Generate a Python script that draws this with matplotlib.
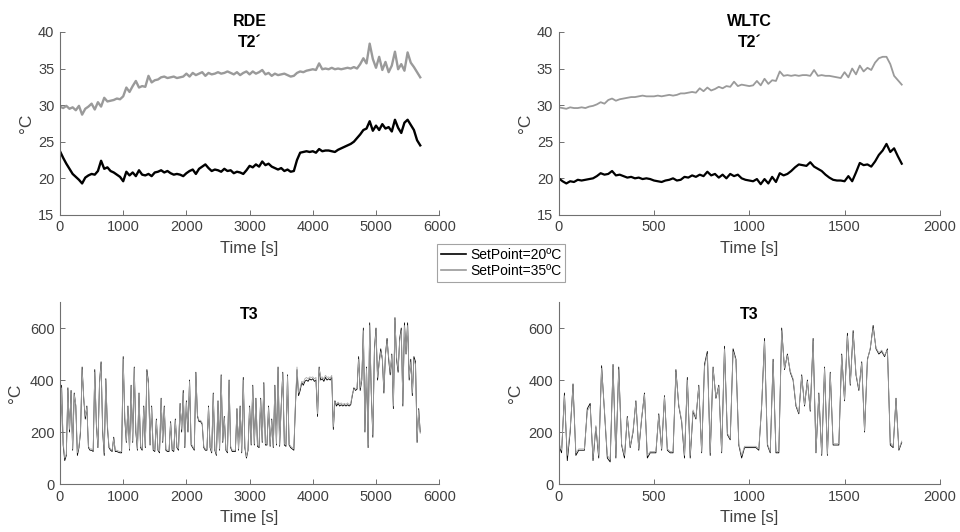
import numpy as np
import matplotlib
matplotlib.use('Agg')
import matplotlib.pyplot as plt

plt.rcParams['font.family'] = ['Liberation Sans', 'DejaVu Sans']

# RDE T2' (every 50 s, 0..5700 s)
rde_t2_20 = [23.7, 22.8, 22.0, 21.3, 20.6, 20.2, 19.8, 19.3, 20.1, 20.4,
             20.6, 20.5, 21.0, 22.4, 21.3, 21.5, 21.0, 20.8, 20.5, 20.2,
             19.6, 20.9, 20.4, 20.8, 20.3, 21.1, 20.5, 20.4, 20.6, 20.3,
             20.8, 20.9, 21.1, 20.8, 21.0, 20.7, 20.5, 20.6, 20.5, 20.3,
             20.7, 21.0, 21.2, 20.6, 21.3, 21.6, 21.9, 21.4, 21.0, 21.2,
             21.1, 20.9, 21.3, 21.0, 21.1, 20.7, 20.9, 20.8, 20.6, 21.1,
             21.7, 21.5, 21.9, 21.6, 22.3, 21.8, 22.0, 21.6, 21.4, 21.2,
             21.4, 21.0, 21.2, 20.9, 21.0, 22.5, 23.5, 23.6, 23.7, 23.6,
             23.7, 23.5, 24.0, 23.7, 23.8, 23.8, 23.7, 23.6, 23.9, 24.1,
             24.3, 24.5, 24.7, 25.0, 25.5, 26.0, 26.6, 26.8, 27.8, 26.5,
             27.2, 26.6, 27.4, 26.8, 27.0, 26.4, 28.0, 26.9, 26.2, 27.6,
             28.0, 27.3, 26.6, 25.2, 24.5]
rde_t2_35 = [29.8, 29.6, 29.9, 29.5, 29.7, 29.3, 29.9, 28.7, 29.5, 29.8,
             30.2, 29.4, 30.4, 29.8, 31.0, 30.5, 30.6, 30.7, 30.9, 30.8,
             31.2, 32.4, 31.8, 32.6, 33.3, 32.4, 32.6, 32.5, 34.0, 33.1,
             33.4, 33.5, 33.8, 33.9, 33.7, 33.8, 33.9, 33.7, 33.8, 33.9,
             34.3, 33.9, 34.4, 34.1, 34.3, 34.5, 34.0, 34.4, 34.2, 34.3,
             34.5, 34.3, 34.4, 34.6, 34.4, 34.2, 34.5, 34.1, 34.4, 34.6,
             34.2, 34.6, 34.3, 34.5, 34.8, 34.2, 34.4, 34.0, 34.3, 34.1,
             34.2, 34.3, 34.1, 33.9, 34.0, 34.4, 34.6, 34.5, 34.7, 34.8,
             34.9, 34.8, 35.7, 34.9, 35.0, 34.9, 35.1, 34.9, 35.0, 34.9,
             35.0, 35.1, 35.0, 35.2, 35.0, 35.6, 36.4, 35.7, 38.4, 36.3,
             35.1, 36.6, 34.8, 35.9, 34.5, 35.4, 37.3, 34.9, 35.6, 34.7,
             37.2, 35.8, 35.2, 34.5, 33.8]

# WLTC T2' (every 20 s, 0..1800 s)
wltc_t2_20 = [20.0, 19.6, 19.3, 19.6, 19.5, 19.8, 19.7, 19.8, 19.9, 20.0,
              20.3, 20.7, 20.5, 20.6, 21.0, 20.4, 20.5, 20.3, 20.1, 20.2,
              20.0, 20.1, 19.9, 20.0, 19.9, 19.7, 19.6, 19.5, 19.7, 19.8,
              20.0, 19.7, 19.8, 20.2, 20.1, 20.4, 20.2, 20.5, 20.3, 20.9,
              20.4, 20.6, 20.1, 20.5, 20.0, 20.6, 20.3, 20.5, 20.0, 19.8,
              19.7, 19.6, 19.9, 19.2, 19.9, 19.3, 20.2, 19.5, 20.7, 20.4,
              20.6, 21.0, 21.5, 21.9, 21.8, 21.7, 22.2, 21.6, 21.3, 21.0,
              20.5, 20.1, 19.8, 19.7, 19.7, 19.6, 20.3, 19.6, 20.8, 22.1,
              21.8, 21.9, 21.6, 22.3, 23.2, 23.8, 24.7, 23.6, 24.1, 23.0,
              22.0]
wltc_t2_35 = [29.7, 29.6, 29.5, 29.7, 29.6, 29.6, 29.7, 29.6, 29.8, 29.9,
              30.1, 30.4, 30.2, 30.7, 30.9, 30.6, 30.8, 30.9, 31.0, 31.1,
              31.1, 31.2, 31.3, 31.2, 31.2, 31.2, 31.3, 31.2, 31.3, 31.4,
              31.3, 31.4, 31.6, 31.6, 31.7, 31.8, 31.7, 32.3, 31.9, 32.4,
              32.0, 32.2, 32.5, 32.3, 32.6, 32.5, 33.2, 32.6, 32.8, 32.7,
              32.6, 32.7, 33.3, 32.7, 33.6, 32.9, 33.4, 33.3, 34.6, 34.0,
              34.1, 34.0, 34.1, 34.0, 34.1, 34.1, 34.0, 34.8, 34.0, 34.1,
              34.0, 34.0, 33.9, 33.8, 33.7, 34.5, 33.8, 35.0, 34.2, 35.4,
              34.6, 35.1, 34.8, 35.8, 36.4, 36.6, 36.6, 35.6, 34.0, 33.4,
              32.8]

# RDE T3 (every 25 s, 0..5700 s)
rde_t3_20 = [120, 380, 150, 90, 110, 370, 200, 360, 130, 350, 300, 110, 140, 200, 450, 330, 250, 300, 140, 130,
             130, 125, 440, 230, 140, 390, 470, 200, 110, 405, 220, 140, 130, 125, 180, 125, 125, 122, 120, 120,
             490, 250, 160, 300, 130, 380, 160, 450, 200, 130, 350, 140, 130, 300, 140, 440, 390, 150, 300, 130,
             125, 250, 130, 120, 330, 160, 300, 130, 125, 125, 240, 130, 125, 250, 140, 130, 310, 200, 360, 140,
             320, 200, 400, 150, 140, 130, 430, 260, 240, 240, 230, 140, 130, 130, 300, 140, 120, 350, 130, 110,
             320, 130, 420, 160, 260, 130, 120, 400, 140, 125, 125, 125, 290, 130, 300, 120, 410, 140, 100, 130,
             300, 150, 380, 150, 330, 145, 140, 330, 160, 390, 150, 150, 300, 145, 250, 140, 380, 150, 450, 145,
             300, 430, 150, 145, 420, 150, 140, 135, 130, 300, 440, 340, 360, 390, 380, 395, 400, 395, 405, 400,
             405, 395, 400, 260, 450, 400, 405, 395, 410, 400, 405, 400, 410, 210, 320, 300, 310, 300, 305, 300,
             305, 300, 305, 300, 305, 340, 370, 360, 365, 490, 360, 400, 600, 200, 450, 140, 620, 350, 180, 520,
             600, 400, 470, 520, 480, 350, 500, 560, 480, 420, 500, 290, 640, 480, 430, 560, 600, 300, 620, 500,
             620, 400, 480, 340, 490, 470, 160, 290, 200]
rde_t3_35 = [125, 370, 160, 100, 115, 360, 210, 350, 135, 345, 305, 120, 145, 210, 440, 335, 260, 295, 145, 135,
             135, 130, 430, 240, 145, 385, 460, 210, 120, 400, 230, 145, 135, 130, 175, 130, 130, 127, 125, 125,
             480, 260, 165, 295, 135, 375, 165, 445, 210, 135, 345, 145, 135, 295, 145, 430, 385, 155, 295, 135,
             130, 245, 135, 125, 325, 165, 295, 135, 130, 130, 235, 135, 130, 245, 145, 135, 305, 210, 350, 145,
             315, 210, 395, 155, 145, 135, 425, 265, 245, 245, 235, 145, 135, 135, 295, 145, 125, 345, 135, 115,
             315, 135, 415, 165, 255, 135, 125, 395, 145, 130, 130, 130, 285, 135, 295, 125, 400, 145, 105, 135,
             295, 155, 375, 155, 325, 150, 145, 325, 165, 385, 155, 155, 295, 150, 245, 145, 375, 155, 440, 150,
             295, 425, 155, 150, 415, 155, 145, 140, 135, 310, 450, 350, 370, 395, 390, 405, 410, 405, 412, 410,
             412, 405, 410, 270, 445, 410, 412, 405, 418, 410, 412, 408, 418, 220, 315, 308, 315, 308, 312, 306,
             310, 306, 312, 305, 310, 345, 365, 365, 370, 480, 370, 405, 590, 210, 445, 150, 610, 360, 190, 510,
             590, 410, 460, 510, 490, 360, 495, 550, 490, 430, 495, 300, 630, 490, 440, 550, 590, 310, 610, 505,
             610, 410, 470, 350, 480, 460, 170, 285, 195]

# WLTC T3 (every 15 s, 0..1800 s)
wltc_t3_20 = [150, 120, 350, 90, 200, 385, 110, 130, 130, 130,
              290, 310, 90, 220, 100, 455, 280, 100, 85, 460,
              100, 450, 150, 100, 260, 140, 200, 320, 130, 250,
              350, 100, 120, 120, 120, 270, 130, 340, 130, 120,
              120, 440, 300, 240, 100, 410, 100, 280, 250, 380,
              120, 460, 510, 110, 450, 330, 380, 120, 530, 190,
              170, 520, 480, 150, 100, 140, 140, 140, 140, 140,
              130, 300, 560, 150, 120, 480, 120, 120, 600, 440,
              500, 430, 400, 300, 270, 420, 300, 400, 280, 560,
              120, 350, 110, 450, 110, 430, 150, 150, 150, 500,
              320, 580, 380, 590, 420, 360, 470, 200, 480, 520,
              610, 520, 500, 510, 490, 520, 150, 140, 330, 130,
              160]
wltc_t3_35 = [160, 130, 340, 110, 210, 375, 120, 135, 135, 135,
              280, 300, 100, 225, 110, 445, 285, 110, 95, 450,
              110, 440, 155, 110, 255, 145, 205, 315, 135, 255,
              345, 110, 125, 125, 125, 265, 135, 335, 135, 125,
              125, 430, 305, 245, 110, 400, 110, 285, 255, 375,
              125, 450, 500, 120, 445, 335, 375, 125, 520, 195,
              175, 510, 475, 155, 110, 145, 145, 145, 145, 145,
              135, 305, 550, 155, 125, 470, 125, 125, 590, 445,
              495, 435, 405, 305, 275, 415, 305, 395, 285, 550,
              125, 345, 115, 445, 115, 425, 155, 155, 155, 495,
              325, 570, 385, 580, 425, 365, 465, 205, 475, 525,
              600, 525, 505, 515, 495, 515, 160, 145, 325, 135,
              165]

GRAY = '#9a9a9a'
LGRAY = '#a8a8a8'
AXC = '#404040'


def style(ax, xlim, xticks, ylim, yticks, ylab_x):
    ax.set_xlim(*xlim)
    ax.set_ylim(*ylim)
    ax.set_xticks(xticks)
    ax.set_yticks(yticks)
    for s in ['top', 'right']:
        ax.spines[s].set_visible(False)
    for s in ['left', 'bottom']:
        ax.spines[s].set_color('#707070')
        ax.spines[s].set_linewidth(0.8)
    ax.tick_params(direction='in', length=3.5, width=0.7, color='#707070',
                   labelsize=10.5, labelcolor=AXC, pad=4)
    ax.set_xlabel('Time [s]', fontsize=12, color=AXC)
    ax.xaxis.set_label_coords(0.5, -0.145)
    ax.set_ylabel('°C', fontsize=12.5, color=AXC)
    ax.yaxis.set_label_coords(ylab_x, 0.5)


fig = plt.figure(figsize=(9.6, 5.32), dpi=100)
ax1 = fig.add_axes([0.0625, 0.596, 0.395, 0.344])
ax2 = fig.add_axes([0.582, 0.596, 0.397, 0.344])
ax3 = fig.add_axes([0.0625, 0.0902, 0.395, 0.342])
ax4 = fig.add_axes([0.582, 0.0902, 0.397, 0.342])

l1, = ax1.plot(np.linspace(0, 5700, len(rde_t2_20)), rde_t2_20, color='black', lw=1.7)
l2, = ax1.plot(np.linspace(0, 5700, len(rde_t2_35)), rde_t2_35, color=GRAY, lw=1.7)
style(ax1, (0, 6000), range(0, 6001, 1000), (15, 40), range(15, 41, 5), -0.068)
ax1.text(0.5, 1.0, 'RDE\nT2´', transform=ax1.transAxes, ha='center', va='center',
         fontsize=11.5, fontweight='bold', linespacing=1.45)

ax2.plot(np.linspace(0, 1800, len(wltc_t2_20)), wltc_t2_20, color='black', lw=1.6)
ax2.plot(np.linspace(0, 1800, len(wltc_t2_35)), wltc_t2_35, color=GRAY, lw=1.3)
style(ax2, (0, 2000), range(0, 2001, 500), (15, 40), range(15, 41, 5), -0.068)
ax2.text(0.5, 1.0, 'WLTC\nT2´', transform=ax2.transAxes, ha='center', va='center',
         fontsize=11.5, fontweight='bold', linespacing=1.45)

ax3.plot(np.linspace(0, 5700, len(rde_t3_20)), rde_t3_20, color='black', lw=0.6)
ax3.plot(np.linspace(0, 5700, len(rde_t3_35)), rde_t3_35, color=LGRAY, lw=0.6)
style(ax3, (0, 6000), range(0, 6001, 1000), (0, 700), range(0, 601, 200), -0.098)
ax3.text(0.5, 0.93, 'T3', transform=ax3.transAxes, ha='center', va='center',
         fontsize=11.5, fontweight='bold')

ax4.plot(np.linspace(0, 1800, len(wltc_t3_20)), wltc_t3_20, color='black', lw=0.6)
ax4.plot(np.linspace(0, 1800, len(wltc_t3_35)), wltc_t3_35, color=LGRAY, lw=0.6)
style(ax4, (0, 2000), range(0, 2001, 500), (0, 700), range(0, 601, 200), -0.094)
ax4.text(0.5, 0.93, 'T3', transform=ax4.transAxes, ha='center', va='center',
         fontsize=11.5, fontweight='bold')

leg = fig.legend([l1, l2], ['SetPoint=20ºC', 'SetPoint=35ºC'], loc='center',
                 bbox_to_anchor=(0.522, 0.506), fontsize=10, frameon=True,
                 fancybox=False, edgecolor='#8c8c8c', handlelength=1.8,
                 handletextpad=0.3, borderpad=0.3, labelspacing=0.15,
                 borderaxespad=0)
leg.get_frame().set_linewidth(0.8)
for h in leg.get_lines():
    h.set_linewidth(1.2)

fig.savefig('out.png', dpi=100)
